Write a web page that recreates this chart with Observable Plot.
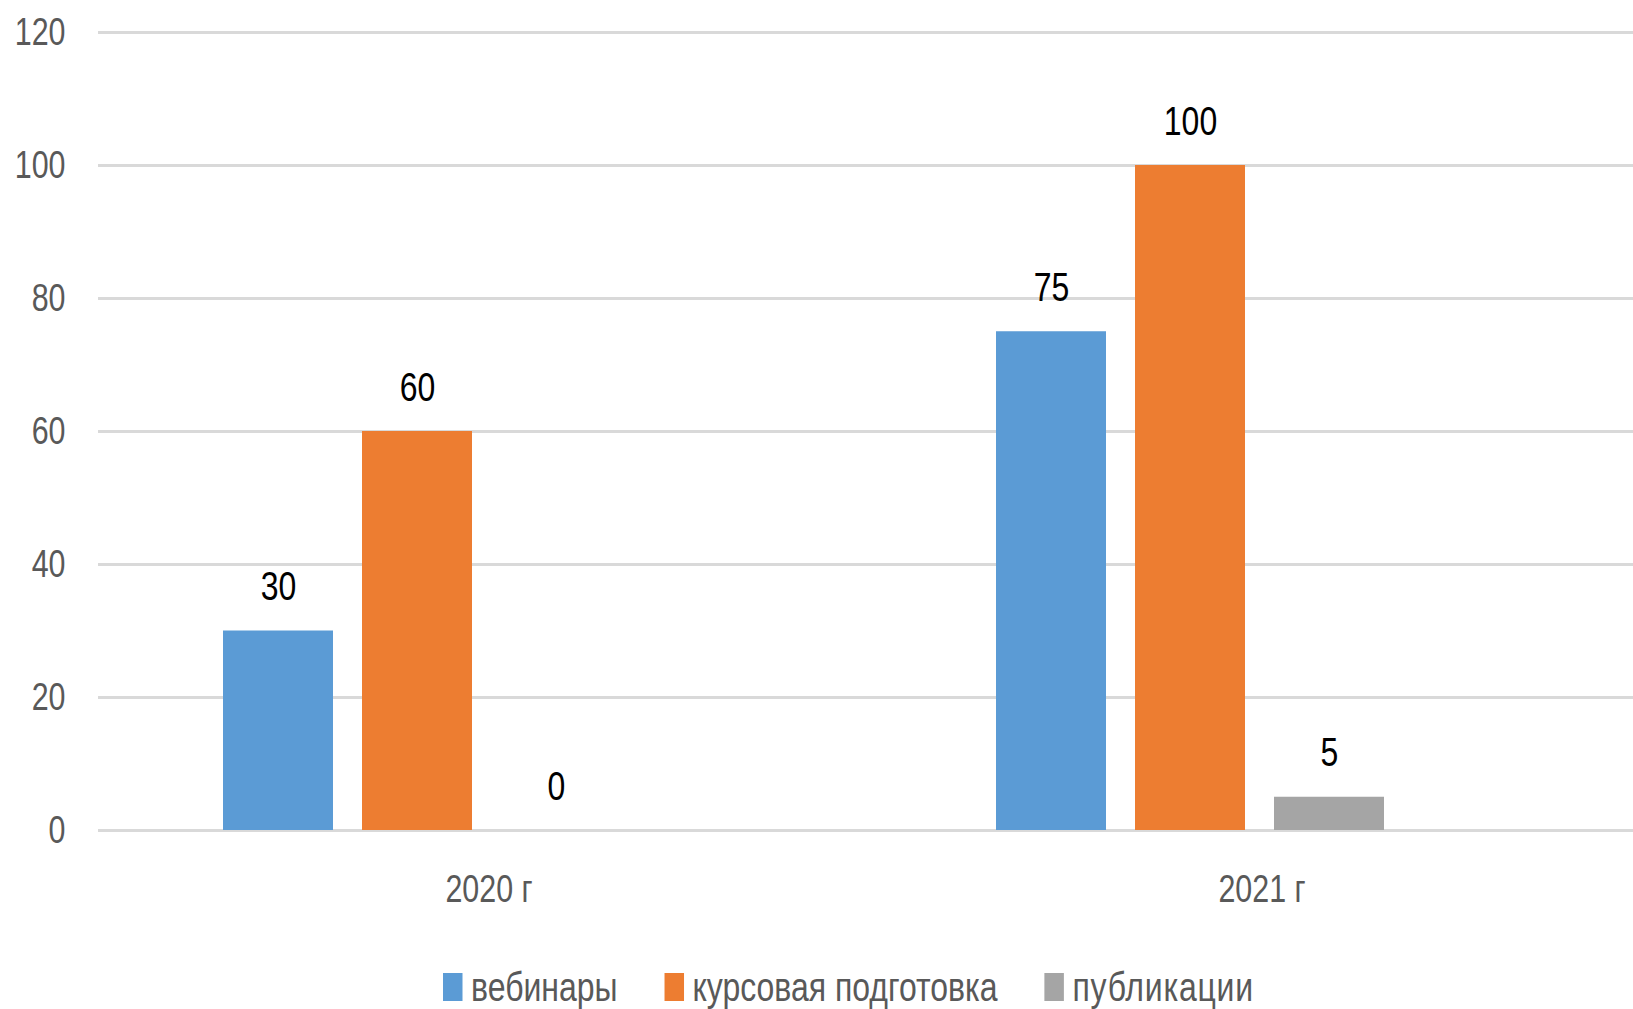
<!DOCTYPE html>
<html>
<head>
<meta charset="utf-8">
<script src="https://cdn.jsdelivr.net/npm/d3@7"></script>
<script src="https://cdn.jsdelivr.net/npm/@observablehq/plot@0.6"></script>
<style>
  html, body { margin: 0; padding: 0; background: #ffffff; }
  #chart { width: 1633px; height: 1009px; overflow: hidden; position: relative; }
  .legend { position: absolute; left: 443px; top: 967px; white-space: nowrap; font-family: 'Liberation Sans', Arial, sans-serif; font-size: 41px; line-height: 41px; color: #595959; transform: scaleX(0.78); transform-origin: left top; }
  .legend .item { display: inline-block; margin-right: 60px; }
  .legend .item:last-child .lbl { letter-spacing: 1px; }
  .legend .sw { display: inline-block; width: 25px; height: 28px; margin-right: 11px; vertical-align: baseline; }
</style>
</head>
<body>
<div id="chart"></div>
<script>
const years = ["2020 г", "2021 г"];
const series = ["вебинары", "курсовая подготовка", "публикации"];
const values2020 = [30, 60, 0];
const values2021 = [75, 100, 5];
const colors = ["#5B9BD5", "#ED7D31", "#A5A5A5"];
const yTicks = [0, 20, 40, 60, 80, 100, 120];

const FONT = "'Liberation Sans', Arial, sans-serif";

const data = [];
[values2020, values2021].forEach((vals, i) => {
  vals.forEach((v, j) => data.push({year: years[i], series: series[j], value: v}));
});

const chart = Plot.plot({
  width: 1633,
  height: 920,
  marginLeft: 98,
  marginRight: 0,
  marginTop: 32,
  marginBottom: 90,
  style: {fontFamily: FONT, fontSize: "39px", color: "#595959", background: "#ffffff", overflow: "hidden"},
  fx: {domain: years, range: [98, 1644], padding: 0, label: null},
  x: {domain: series, paddingInner: 0.21, paddingOuter: 1.37, align: 0.324, axis: null},
  y: {domain: [0, 120], label: null},
  color: {domain: series, range: colors},
  marks: [
    Plot.ruleY(yTicks, {stroke: "#D9D9D9", strokeWidth: 3}),
    Plot.barY(data, {fx: "year", x: "series", y: "value", fill: "series"}),
    Plot.text(data, {fx: "year", x: "series", y: "value", text: d => String(d.value), dy: -31, lineAnchor: "bottom", fill: "#000000", fontSize: 41}),
    Plot.axisY({ticks: yTicks, tickSize: 0, tickPadding: 33, label: null, fontSize: 39, fill: "#595959"}),
    Plot.axisFx({anchor: "bottom", tickSize: 0, tickPadding: 44, label: null, fontSize: 39, fill: "#595959", dx: 4})
  ]
});

const root = document.getElementById("chart");
root.appendChild(chart);

// Narrow the glyphs horizontally (the reference uses a condensed face)
const SX = 0.78;
chart.querySelectorAll("text").forEach(t => {
  const bb = t.getBBox();
  const anchor = getComputedStyle(t).textAnchor;
  const ax = anchor === "end" ? bb.x + bb.width : anchor === "middle" ? bb.x + bb.width / 2 : bb.x;
  const prev = t.getAttribute("transform") || "";
  t.setAttribute("transform", `${prev} translate(${ax},0) scale(${SX},1) translate(${-ax},0)`.trim());
});

const legend = document.createElement("div");
legend.className = "legend";
series.forEach((s, i) => {
  const item = document.createElement("span");
  item.className = "item";
  const sw = document.createElement("span");
  sw.className = "sw";
  sw.style.background = colors[i];
  const label = document.createElement("span");
  label.className = "lbl";
  label.textContent = s;
  item.appendChild(sw);
  item.appendChild(label);
  legend.appendChild(item);
});
root.appendChild(legend);
</script>
</body>
</html>
